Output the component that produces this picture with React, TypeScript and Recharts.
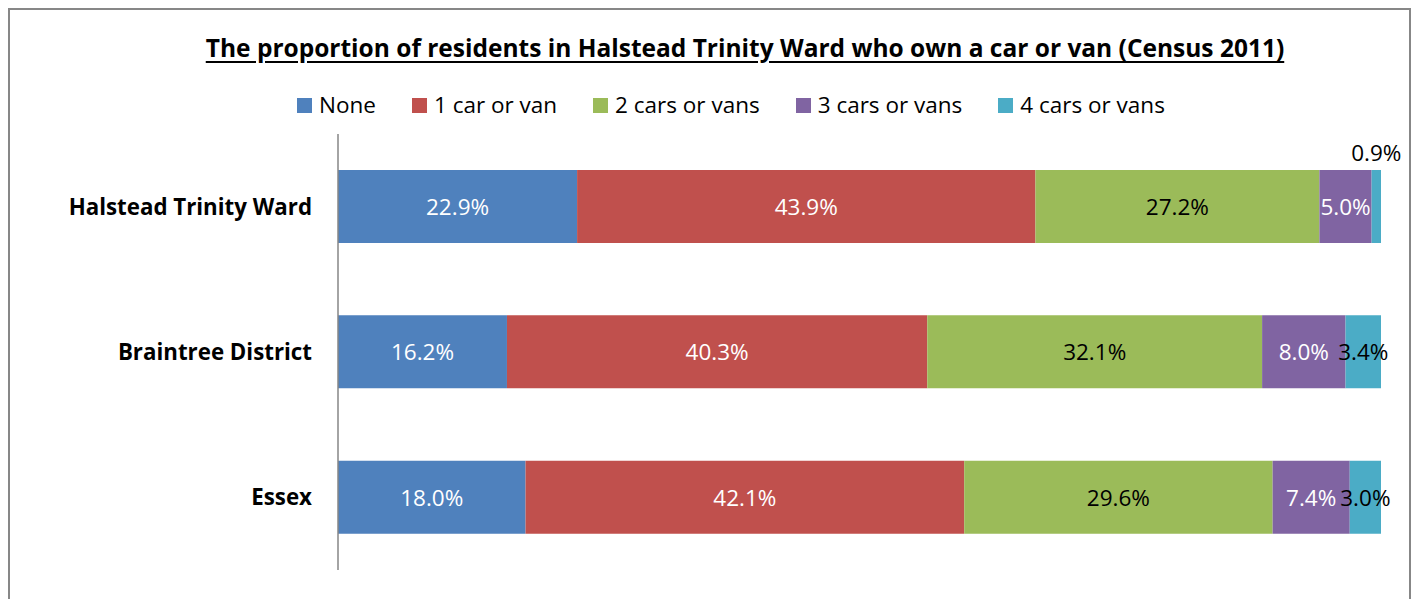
import React from 'react';
import { BarChart, Bar, XAxis, YAxis, Legend, LabelList } from 'recharts';

const categories = ['Halstead Trinity Ward', 'Braintree District', 'Essex'];
const seriesNames = ['None', '1 car or van', '2 cars or vans', '3 cars or vans', '4 cars or vans'];
const noneValues = [22.9, 16.2, 18.0];
const oneCarValues = [43.9, 40.3, 42.1];
const twoCarsValues = [27.2, 32.1, 29.6];
const threeCarsValues = [5.0, 8.0, 7.4];
const fourCarsValues = [0.9, 3.4, 3.0];

const seriesKeys = ['none', 'one', 'two', 'three', 'four'];
const seriesValues = [noneValues, oneCarValues, twoCarsValues, threeCarsValues, fourCarsValues];
const seriesColors = ['#4F81BD', '#C0504D', '#9BBB59', '#8064A2', '#4BACC6'];
const labelColors = ['#FFFFFF', '#FFFFFF', '#000000', '#FFFFFF', '#000000'];

const data = categories.map((category, i) => {
  const row: any = { category };
  seriesKeys.forEach((k, s) => {
    row[k] = seriesValues[s][i];
  });
  return row;
});

const FONT = '"Open Sans", "Noto Sans", sans-serif';

const makeLabel = (s: number) => (props: any) => {
  const vb = props.viewBox || {};
  const x = Number(props.x ?? vb.x);
  const y = Number(props.y ?? vb.y);
  const width = Number(props.width ?? vb.width);
  const height = Number(props.height ?? vb.height);
  const idx = props.index;
  const v = typeof idx === 'number' ? seriesValues[s][idx] : Number(props.value);
  const text = `${v.toFixed(1)}%`;
  const outside = v < 2;
  return (
    <text
      x={x + width / 2}
      y={outside ? y - 18 : y + height / 2}
      textAnchor="middle"
      dominantBaseline="central"
      fill={outside ? '#000000' : labelColors[s]}
      fontSize={22.5}
      fontFamily={FONT}
    >
      {text}
    </text>
  );
};

const LegendContent = () => (
  <div
    style={{
      display: 'flex',
      alignItems: 'center',
      paddingLeft: 289,
      fontFamily: FONT,
      fontSize: 22.5,
      color: '#000',
      lineHeight: '30px',
    }}
  >
    {seriesNames.map((name, i) => (
      <div key={name} style={{ display: 'flex', alignItems: 'center', marginRight: 36 }}>
        <span style={{ width: 15, height: 15, background: seriesColors[i], display: 'inline-block', marginRight: 7 }} />
        <span>{name}</span>
      </div>
    ))}
  </div>
);

export default function App() {
  return (
    <div
      style={{
        position: 'absolute',
        left: 8,
        top: 8,
        width: 1404,
        height: 591,
        overflow: 'hidden',
        background: '#fff',
      }}
    >
      <div
        style={{
          position: 'absolute',
          left: 0,
          top: 0,
          width: 1403,
          height: 640,
          border: '2px solid #878787',
          boxSizing: 'border-box',
          pointerEvents: 'none',
        }}
      />
      <div
        style={{
          position: 'absolute',
          left: 0,
          top: 23,
          width: 1474,
          textAlign: 'center',
          fontFamily: FONT,
          fontWeight: 700,
          fontSize: 24.5,
          textDecoration: 'underline',
          textUnderlineOffset: 4,
          lineHeight: '34px',
          color: '#000',
        }}
      >
        The proportion of residents in Halstead Trinity Ward who own a car or van (Census 2011)
      </div>
      <BarChart
        width={1404}
        height={591}
        data={data}
        layout="vertical"
        stackOffset="expand"
        margin={{ top: 126, right: 31, left: 0, bottom: 29 }}
        barSize={73}
      >
        <XAxis type="number" hide domain={[0, 1]} />
        <YAxis
          type="category"
          dataKey="category"
          width={330}
          tickLine={false}
          tickSize={0}
          tickMargin={26}
          axisLine={{ stroke: '#868686', strokeWidth: 1.5 }}
          tick={{ fill: '#000', fontSize: 22.3, fontWeight: 700, fontFamily: FONT }}
        />
        <Legend
          layout="horizontal"
          verticalAlign="middle"
          align="center"
          content={<LegendContent />}
          wrapperStyle={{ top: 82, left: 0, width: 1404 }}
        />
        {seriesKeys.map((k, s) => (
          <Bar
            key={k}
            dataKey={k}
            name={seriesNames[s]}
            stackId="a"
            fill={seriesColors[s]}
            isAnimationActive={false}
          >
            <LabelList dataKey={k} content={makeLabel(s)} />
          </Bar>
        ))}
      </BarChart>
    </div>
  );
}
